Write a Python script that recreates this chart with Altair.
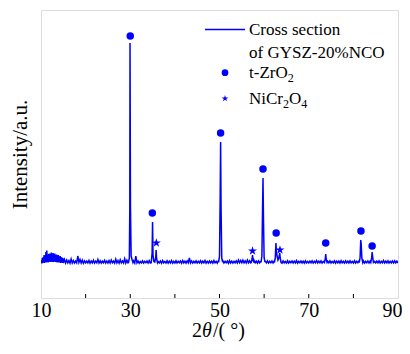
import altair as alt
import pandas as pd

# ---- background trace (2theta grid, intensity in arbitrary units) ----
bg_a_start, bg_a_step = 10.0, 0.1
bg_a = [350, 380, 345, 400, 350, 410, 355, 430, 350, 420,
        360, 460, 355, 475, 360, 430, 355, 440, 360, 445,
        365, 440, 360, 455, 365, 445, 360, 450, 360, 440,
        365, 445, 360, 430, 360, 435, 355, 425, 360, 430,
        355, 415, 355, 420, 350, 410, 355, 405, 350, 400, 350]

bg_b_start, bg_b_step = 15.25, 0.25
bg_b = [385, 350, 380, 352, 375, 348, 390, 350, 375, 349, 370, 352, 420, 355, 385, 350, 378, 348, 372, 352,
        368, 350, 375, 348, 370, 352, 378, 349, 368, 351, 385, 350, 372, 348, 368, 352, 376, 349, 370, 350,
        375, 350, 380, 352, 368, 349, 388, 351, 375, 348, 382, 352, 370, 350, 392, 349, 378, 352, 382, 360,
        380, 355, 372, 350, 420, 352, 370, 348, 365, 351, 372, 349, 366, 352, 370, 350, 375, 349, 368, 350,
        368, 352, 372, 349, 365, 351, 370, 348, 374, 352, 366, 350, 372, 349, 368, 351, 375, 348, 366, 350,
        372, 349, 366, 352, 370, 348, 375, 351, 368, 349, 372, 352, 400, 350, 370, 349, 366, 352, 372, 350,
        366, 351, 372, 348, 368, 352, 375, 349, 366, 350, 370, 352, 368, 349, 374, 351, 366, 348, 372, 355,
        368, 350, 372, 349, 366, 352, 370, 348, 374, 351, 368, 349, 366, 352, 372, 350, 380, 353, 375, 352,
        378, 352, 372, 350, 380, 353, 372, 351, 368, 350, 375, 352, 368, 349, 372, 352, 366, 350, 370, 352,
        368, 351, 372, 349, 366, 352, 370, 350, 368, 351, 375, 352, 372, 350, 368, 349, 372, 352, 366, 350,
        372, 349, 366, 352, 370, 350, 368, 351, 374, 349, 366, 352, 370, 350, 368, 349, 372, 352, 366, 350,
        368, 351, 372, 349, 366, 352, 375, 350, 368, 351, 372, 349, 366, 352, 370, 350, 368, 351, 372, 350,
        366, 352, 372, 349, 368, 351, 370, 350, 374, 352, 366, 349, 372, 351, 368, 350, 372, 352, 366, 350,
        372, 349, 366, 352, 370, 350, 368, 351, 372, 349, 366, 352, 370, 350, 368, 351, 372, 349, 366, 350,
        368, 352, 372, 349, 366, 351, 375, 350, 368, 352, 372, 349, 366, 351, 370, 350, 372, 352, 368, 350]

# ---- diffraction peaks (explicit points) ----
peak_groups = [
    [(29.6, 355), (29.8, 400), (29.9, 900), (29.95, 2550), (30.05, 900), (30.2, 420), (30.4, 385), (30.6, 355)],
    [(34.7, 352), (34.9, 450), (35.0, 760), (35.1, 430), (35.3, 365), (35.5, 360), (35.7, 400),
     (35.8, 480), (35.9, 395), (36.1, 352)],
    [(49.8, 355), (50.0, 420), (50.15, 1000), (50.25, 1560), (50.35, 900), (50.5, 400), (50.7, 360)],
    [(57.1, 355), (57.3, 390), (57.4, 430), (57.5, 390), (57.7, 355)],
    [(59.3, 355), (59.5, 420), (59.65, 900), (59.75, 1200), (59.85, 800), (60.0, 400), (60.2, 360)],
    [(62.3, 355), (62.5, 400), (62.65, 550), (62.75, 460), (62.9, 420), (63.1, 380), (63.3, 400),
     (63.5, 450), (63.6, 400), (63.8, 355)],
    [(73.5, 355), (73.7, 390), (73.8, 440), (73.9, 390), (74.1, 355)],
    [(81.3, 355), (81.5, 400), (81.65, 580), (81.75, 540), (81.9, 400), (82.1, 355)],
    [(83.9, 355), (84.1, 400), (84.2, 460), (84.3, 420), (84.5, 355)],
]

circle_angles = [30.0, 34.95, 50.25, 59.75, 62.7, 73.8, 81.7, 84.2]
circle_heights = [2620, 850, 1650, 1290, 650, 550, 670, 520]
star_angles = [35.85, 57.4, 63.55]
star_heights = [550, 470, 480]

tick_angles = [20, 30, 40, 50, 60, 70, 80]
x_label_values = [10, 30, 50, 70, 90]

legend_line_label = ["Cross section"]
legend_line_label2 = ["of GYSZ-20%NCO"]
legend_zro_main = ["t-ZrO"]
legend_nicr_a = ["NiCr"]
legend_nicr_b = ["O"]
sub2 = ["2"]
sub4 = ["4"]
x_title_a = ["2"]
x_title_b = ["θ"]
x_title_c = ["/( °)"]

BLUE = "#0000FF"
FONT = "Liberation Serif, Times New Roman, serif"
STAR = "M0,-1L0.2245,-0.309L0.951,-0.309L0.363,0.118L0.588,0.809L0,0.382L-0.588,0.809L-0.363,0.118L-0.951,-0.309L-0.2245,-0.309Z"

# build trace
pts = []
for i, v in enumerate(bg_a):
    pts.append((round(bg_a_start + i * bg_a_step, 3), v))
for i, v in enumerate(bg_b):
    pts.append((round(bg_b_start + i * bg_b_step, 3), v))
windows = [(g[0][0], g[-1][0]) for g in peak_groups]
pts = [p for p in pts if not any(lo <= p[0] <= hi for lo, hi in windows)]
for g in peak_groups:
    pts.extend(g)
pts.sort()
trace = pd.DataFrame(pts, columns=["angle", "intensity"])

W, H = 357, 288
xs = alt.Scale(domain=[10, 90], nice=False, zero=False)
ys = alt.Scale(domain=[0, 2880], nice=False, zero=False)

line = alt.Chart(trace).mark_line(color=BLUE, strokeWidth=1.5, clip=True).encode(
    x=alt.X("angle:Q", scale=xs,
            axis=alt.Axis(values=x_label_values, title=None, ticks=False, domain=False, grid=False,
                          labelFont=FONT, labelFontSize=20, labelColor="black", labelPadding=2,
                          labelFlush=False,
                          labelAlign={"condition": {"test": "datum.value == 90", "value": "right"},
                                      "value": "center"},
                          labelOffset={"condition": {"test": "datum.value == 90", "value": 4},
                                       "value": 0})),
    y=alt.Y("intensity:Q", scale=ys,
            axis=alt.Axis(title="Intensity/a.u.", labels=False, ticks=False, domain=False, grid=False,
                          titleFont=FONT, titleFontSize=21, titleFontWeight="normal",
                          titleColor="black", titlePadding=11)),
)

circles = alt.Chart(pd.DataFrame({"angle": circle_angles, "h": circle_heights})).mark_point(
    shape="circle", filled=True, color=BLUE, size=56, opacity=1).encode(
    x=alt.X("angle:Q", scale=xs), y=alt.Y("h:Q", scale=ys))

stars = alt.Chart(pd.DataFrame({"angle": star_angles, "h": star_heights})).mark_point(
    shape=STAR, filled=True, color=BLUE, size=90, opacity=1).encode(
    x=alt.X("angle:Q", scale=xs), y=alt.Y("h:Q", scale=ys))

ticks = alt.Chart(pd.DataFrame({"angle": tick_angles})).mark_rule(color="black", strokeWidth=1).encode(
    x=alt.X("angle:Q", scale=xs), y=alt.value(H), y2=alt.value(H - 4))


def txt(vals, x, y, size=17, style="normal", align="left"):
    return alt.Chart(pd.DataFrame({"t": vals})).mark_text(
        font=FONT, fontSize=size, fontStyle=style, color="black", align=align, baseline="middle").encode(
        text="t:N", x=alt.value(x), y=alt.value(y))


leg_line = alt.Chart(pd.DataFrame({"t": legend_line_label})).mark_rule(color=BLUE, strokeWidth=1.5).encode(
    x=alt.value(164), x2=alt.value(204), y=alt.value(19.5))
leg_circle = alt.Chart(pd.DataFrame({"t": legend_zro_main})).mark_point(
    shape="circle", filled=True, color=BLUE, size=45, opacity=1).encode(x=alt.value(184), y=alt.value(62.7))
leg_star = alt.Chart(pd.DataFrame({"t": legend_nicr_a})).mark_point(
    shape=STAR, filled=True, color=BLUE, size=50, opacity=1).encode(x=alt.value(184), y=alt.value(88.5))

legend_texts = [
    txt(legend_line_label, 208, 20),
    txt(legend_line_label2, 208, 42.5),
    txt(legend_zro_main, 208, 62.5),
    txt(sub2, 246.7, 67.5, size=12),
    txt(legend_nicr_a, 208, 88.5),
    txt(sub2, 242, 93.5, size=12),
    txt(legend_nicr_b, 248, 88.5),
    txt(sub4, 260.3, 93.5, size=12),
]

xtitle = [
    txt(x_title_a, 151, 321, size=20),
    txt(x_title_b, 161, 321, size=20, style="italic"),
    txt(x_title_c, 172, 321, size=20),
]

chart = alt.layer(line, ticks, circles, stars, leg_line, leg_circle, leg_star, *legend_texts, *xtitle).properties(
    width=W, height=H,
    autosize=alt.AutoSizeParams(type="none"),
    padding={"left": 33, "top": 2, "right": 4, "bottom": 44},
).configure_view(stroke="black", strokeWidth=1.5).configure(background="white")

chart.save("out.html", embed_options={"renderer": "svg", "actions": False})
